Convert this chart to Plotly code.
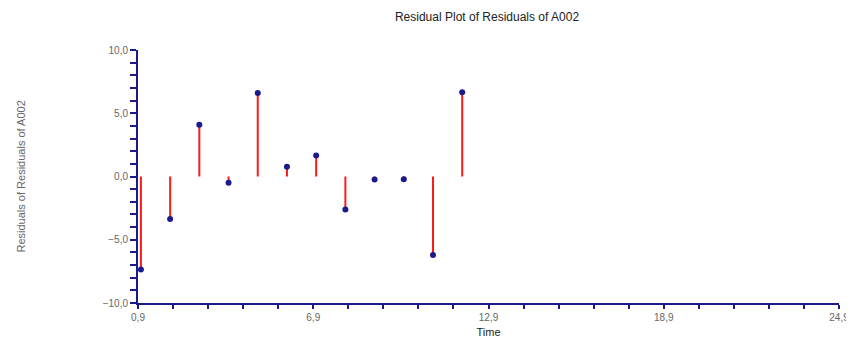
import plotly.graph_objects as go

time = [1, 2, 3, 4, 5, 6, 7, 8, 9, 10, 11, 12]
residuals = [-7.35, -3.35, 4.1, -0.5, 6.6, 0.77, 1.66, -2.6, -0.24, -0.22, -6.2, 6.66]

title = "Residual Plot of Residuals of A002"
x_title = "Time"
y_title = "Residuals of Residuals of A002"

stem_x, stem_y = [], []
for t, r in zip(time, residuals):
    stem_x += [t, t, None]
    stem_y += [0, r, None]

fig = go.Figure()
fig.add_trace(go.Scatter(x=stem_x, y=stem_y, mode="lines",
                         line=dict(color="#ff1a1a", width=2), hoverinfo="skip",
                         showlegend=False))
fig.add_trace(go.Scatter(x=time, y=residuals, mode="markers",
                         marker=dict(color="#1a1a8c", size=6, symbol="circle"),
                         showlegend=False))

axis_common = dict(showgrid=False, zeroline=False, showline=True,
                   linecolor="#1a1a8c", linewidth=2, ticks="outside",
                   tickcolor="#1a1a8c", tickwidth=2, ticklen=6,
                   tickfont=dict(family="Liberation Sans, Arial", size=10, color="#666666"),
                   tickformat=".1f")

fig.update_layout(
    width=846, height=337,
    paper_bgcolor="white", plot_bgcolor="white",
    margin=dict(l=130, r=15, t=42, b=42),
    separators=",.",
    title=dict(text=title, x=479 / 846, xanchor="center", y=1 - 9 / 337, yanchor="middle",
               font=dict(family="Liberation Sans, Arial", size=12, color="#222222")),
    xaxis=dict(range=[0.9, 24.9], tick0=0.9, dtick=6,
               minor=dict(dtick=1.2, tick0=0.9, ticks="outside", ticklen=4,
                          tickcolor="#1a1a8c", tickwidth=2),
               title=dict(text=x_title, standoff=6,
                          font=dict(family="Liberation Sans, Arial", size=11, color="#222222")),
               **axis_common),
    yaxis=dict(range=[-10, 10], tick0=0, dtick=5,
               minor=dict(dtick=1, ticks="outside", ticklen=6,
                          tickcolor="#1a1a8c", tickwidth=2),
               **axis_common),
    annotations=[dict(text=y_title, xref="paper", yref="paper", x=0, y=0.5,
                      xshift=-126, textangle=-90, showarrow=False,
                      font=dict(family="Liberation Sans, Arial", size=11, color="#666666"))],
)
fig.update_xaxes(ticklen=4, automargin=False)
fig.update_yaxes(automargin=False)

fig.write_html("out.html")
